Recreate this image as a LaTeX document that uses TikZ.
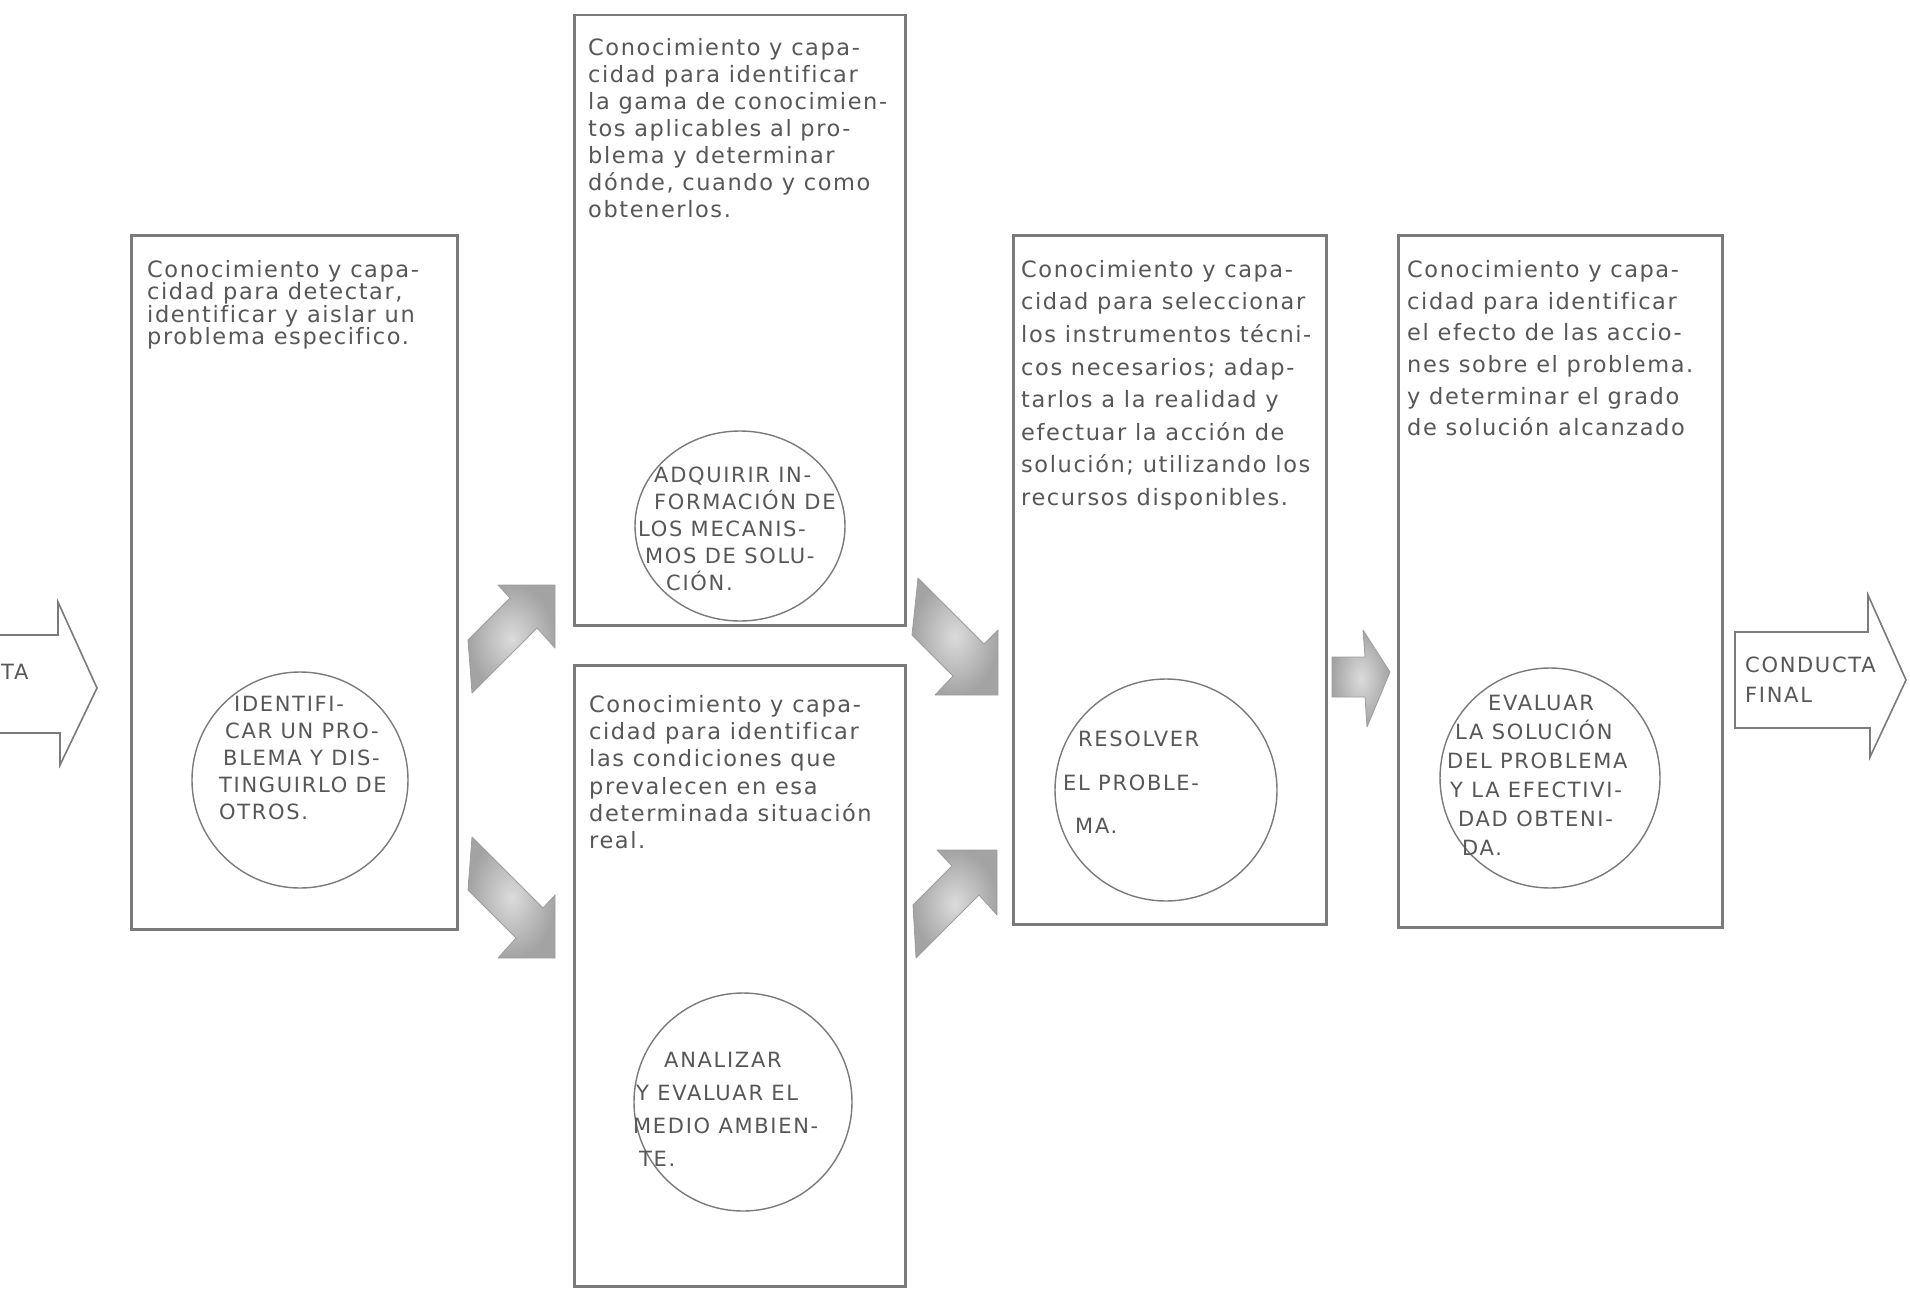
\documentclass[tikz,border=0pt]{standalone}
\usepackage{fontspec}
\usetikzlibrary{shapes.geometric}
\setmainfont{DejaVu Sans}
\newfontfamily\lowfont[LetterSpace=7,Ligatures=NoCommon]{DejaVu Sans}
\newfontfamily\capfont[LetterSpace=8,Ligatures=NoCommon]{DejaVu Sans}
\AtBeginDocument{\lineskiplimit=-100pt\relax}
\begin{document}
\begin{tikzpicture}[x=1pt,y=-1pt,
  box/.style={draw=black!52, line width=2.5pt, rectangle, anchor=north west, inner sep=0pt},
  circ/.style={draw=black!52, line width=1.4pt, circle, inner sep=0pt},
  ell/.style={draw=black!52, line width=1.4pt, ellipse, inner sep=0pt},
  fat/.style={draw=black!38, line width=0.8pt, line join=round, inner color=black!14, outer color=black!36},
  outl/.style={draw=black!52, line width=1.6pt, line join=miter},
  txt/.style={anchor=north west, inner sep=0pt, align=left, text=black!66},
  lowtxt/.style={txt, font=\lowfont\fontsize{22.5}{#1}\selectfont},
  captxt/.style={txt, font=\capfont\fontsize{21}{#1}\selectfont}]
\useasboundingbox (0,0) rectangle (1910,1290);
\fill[white] (0,0) rectangle (1910,1290);

% boxes
\node[box, minimum width=326pt, minimum height=694pt] (b1) at (130,234) {};
\node[box, minimum width=331pt, minimum height=610pt] (b2) at (573,14) {};
\node[box, minimum width=331pt, minimum height=621pt] (b3) at (573,664) {};
\node[box, minimum width=313pt, minimum height=689pt] (b4) at (1012,234) {};
\node[box, minimum width=324pt, minimum height=692pt] (b5) at (1397,234) {};

% box texts
\node[lowtxt=22.5] (t1) at (147,260) {Conocimiento y capa-\\cidad para detectar,\\identificar y aislar un\\problema especifico.};
\node[lowtxt=27] (t2) at (588,38) {Conocimiento y capa-\\cidad para identificar\\la gama de conocimien-\\tos aplicables al pro-\\blema y determinar\\dónde, cuando y como\\obtenerlos.};
\node[lowtxt=27.3] (t3) at (589,695) {Conocimiento y capa-\\cidad para identificar\\las condiciones que\\prevalecen en esa\\determinada situación\\real.};
\node[lowtxt=32.6] (t4) at (1021,260) {Conocimiento y capa-\\cidad para seleccionar\\los instrumentos técni-\\cos necesarios; adap-\\tarlos a la realidad y\\efectuar la acción de\\solución; utilizando los\\recursos disponibles.};
\node[lowtxt=31.7] (t5) at (1407,260) {Conocimiento y capa-\\cidad para identificar\\el efecto de las accio-\\nes sobre el problema.\\y determinar el grado\\de solución alcanzado};

% circles
\node[circ, minimum size=216pt] (c1) at (300,780) {};
\node[ell, minimum width=210pt, minimum height=190pt] (c2) at (740,526) {};
\node[circ, minimum size=218pt] (c3) at (743,1102) {};
\node[circ, minimum size=222pt] (c4) at (1166,790) {};
\node[circ, minimum size=220pt] (c5) at (1550,778) {};

% circle texts
\node[captxt=27] (ct1) at (219,696) {\hspace*{15pt}IDENTIFI-\\\hspace*{6pt}CAR UN PRO-\\\hspace*{4pt}BLEMA Y DIS-\\TINGUIRLO DE\\OTROS.};
\node[captxt=27] (ct2) at (638,467) {\hspace*{16pt}ADQUIRIR IN-\\\hspace*{16pt}FORMACIÓN DE\\LOS MECANIS-\\\hspace*{7pt}MOS DE SOLU-\\\hspace*{28pt}CIÓN.};
\node[captxt=33] (ct3) at (633,1052) {\hspace*{31pt}ANALIZAR\\\hspace*{3pt}Y EVALUAR EL\\MEDIO AMBIEN-\\\hspace*{6pt}TE.};
\node[captxt=43.5] (ct4) at (1063,731) {\hspace*{15pt}RESOLVER\\EL PROBLE-\\\hspace*{12pt}MA.};
\node[captxt=29] (ct5) at (1447,695) {\hspace*{41pt}EVALUAR\\\hspace*{8pt}LA SOLUCIÓN\\DEL PROBLEMA\\\hspace*{3pt}Y LA EFECTIVI-\\\hspace*{11pt}DAD OBTENI-\\\hspace*{15pt}DA.};

% fat arrows between boxes
\shadedraw[fat] (468,640) -- (510,598) -- (498,585) -- (555,585) -- (555,648) -- (537,628) -- (472,693) -- cycle;
\shadedraw[fat] (472,837) -- (543,908) -- (555,895) -- (555,958) -- (498,958) -- (516,938) -- (468,890) -- cycle;
\shadedraw[fat] (918,578) -- (984,644) -- (998,630) -- (998,695) -- (935,695) -- (953,676) -- (912,635) -- cycle;
\shadedraw[fat] (913,905) -- (952,866) -- (937,850) -- (997,850) -- (997,915) -- (979,895) -- (916,958) -- cycle;
\shadedraw[fat] (1332,657) -- (1365,657) -- (1363,630) -- (1390,672) -- (1367,727) -- (1365,697) -- (1332,697) -- cycle;

% input arrow (cut at left margin)
\draw[outl] (0,635) -- (58,635) -- (58,602) -- (97,688) -- (60,765) -- (60,733) -- (0,733);
\node[captxt=30] (tin) at (1,664) {TA};

% output arrow
\draw[outl] (1868,632) -- (1735,632) -- (1735,728) -- (1870,728) -- (1870,757) -- (1906,680) -- (1868,595) -- cycle;
\node[captxt=30] (tout) at (1745,657) {CONDUCTA\\FINAL};
\end{tikzpicture}
\end{document}
